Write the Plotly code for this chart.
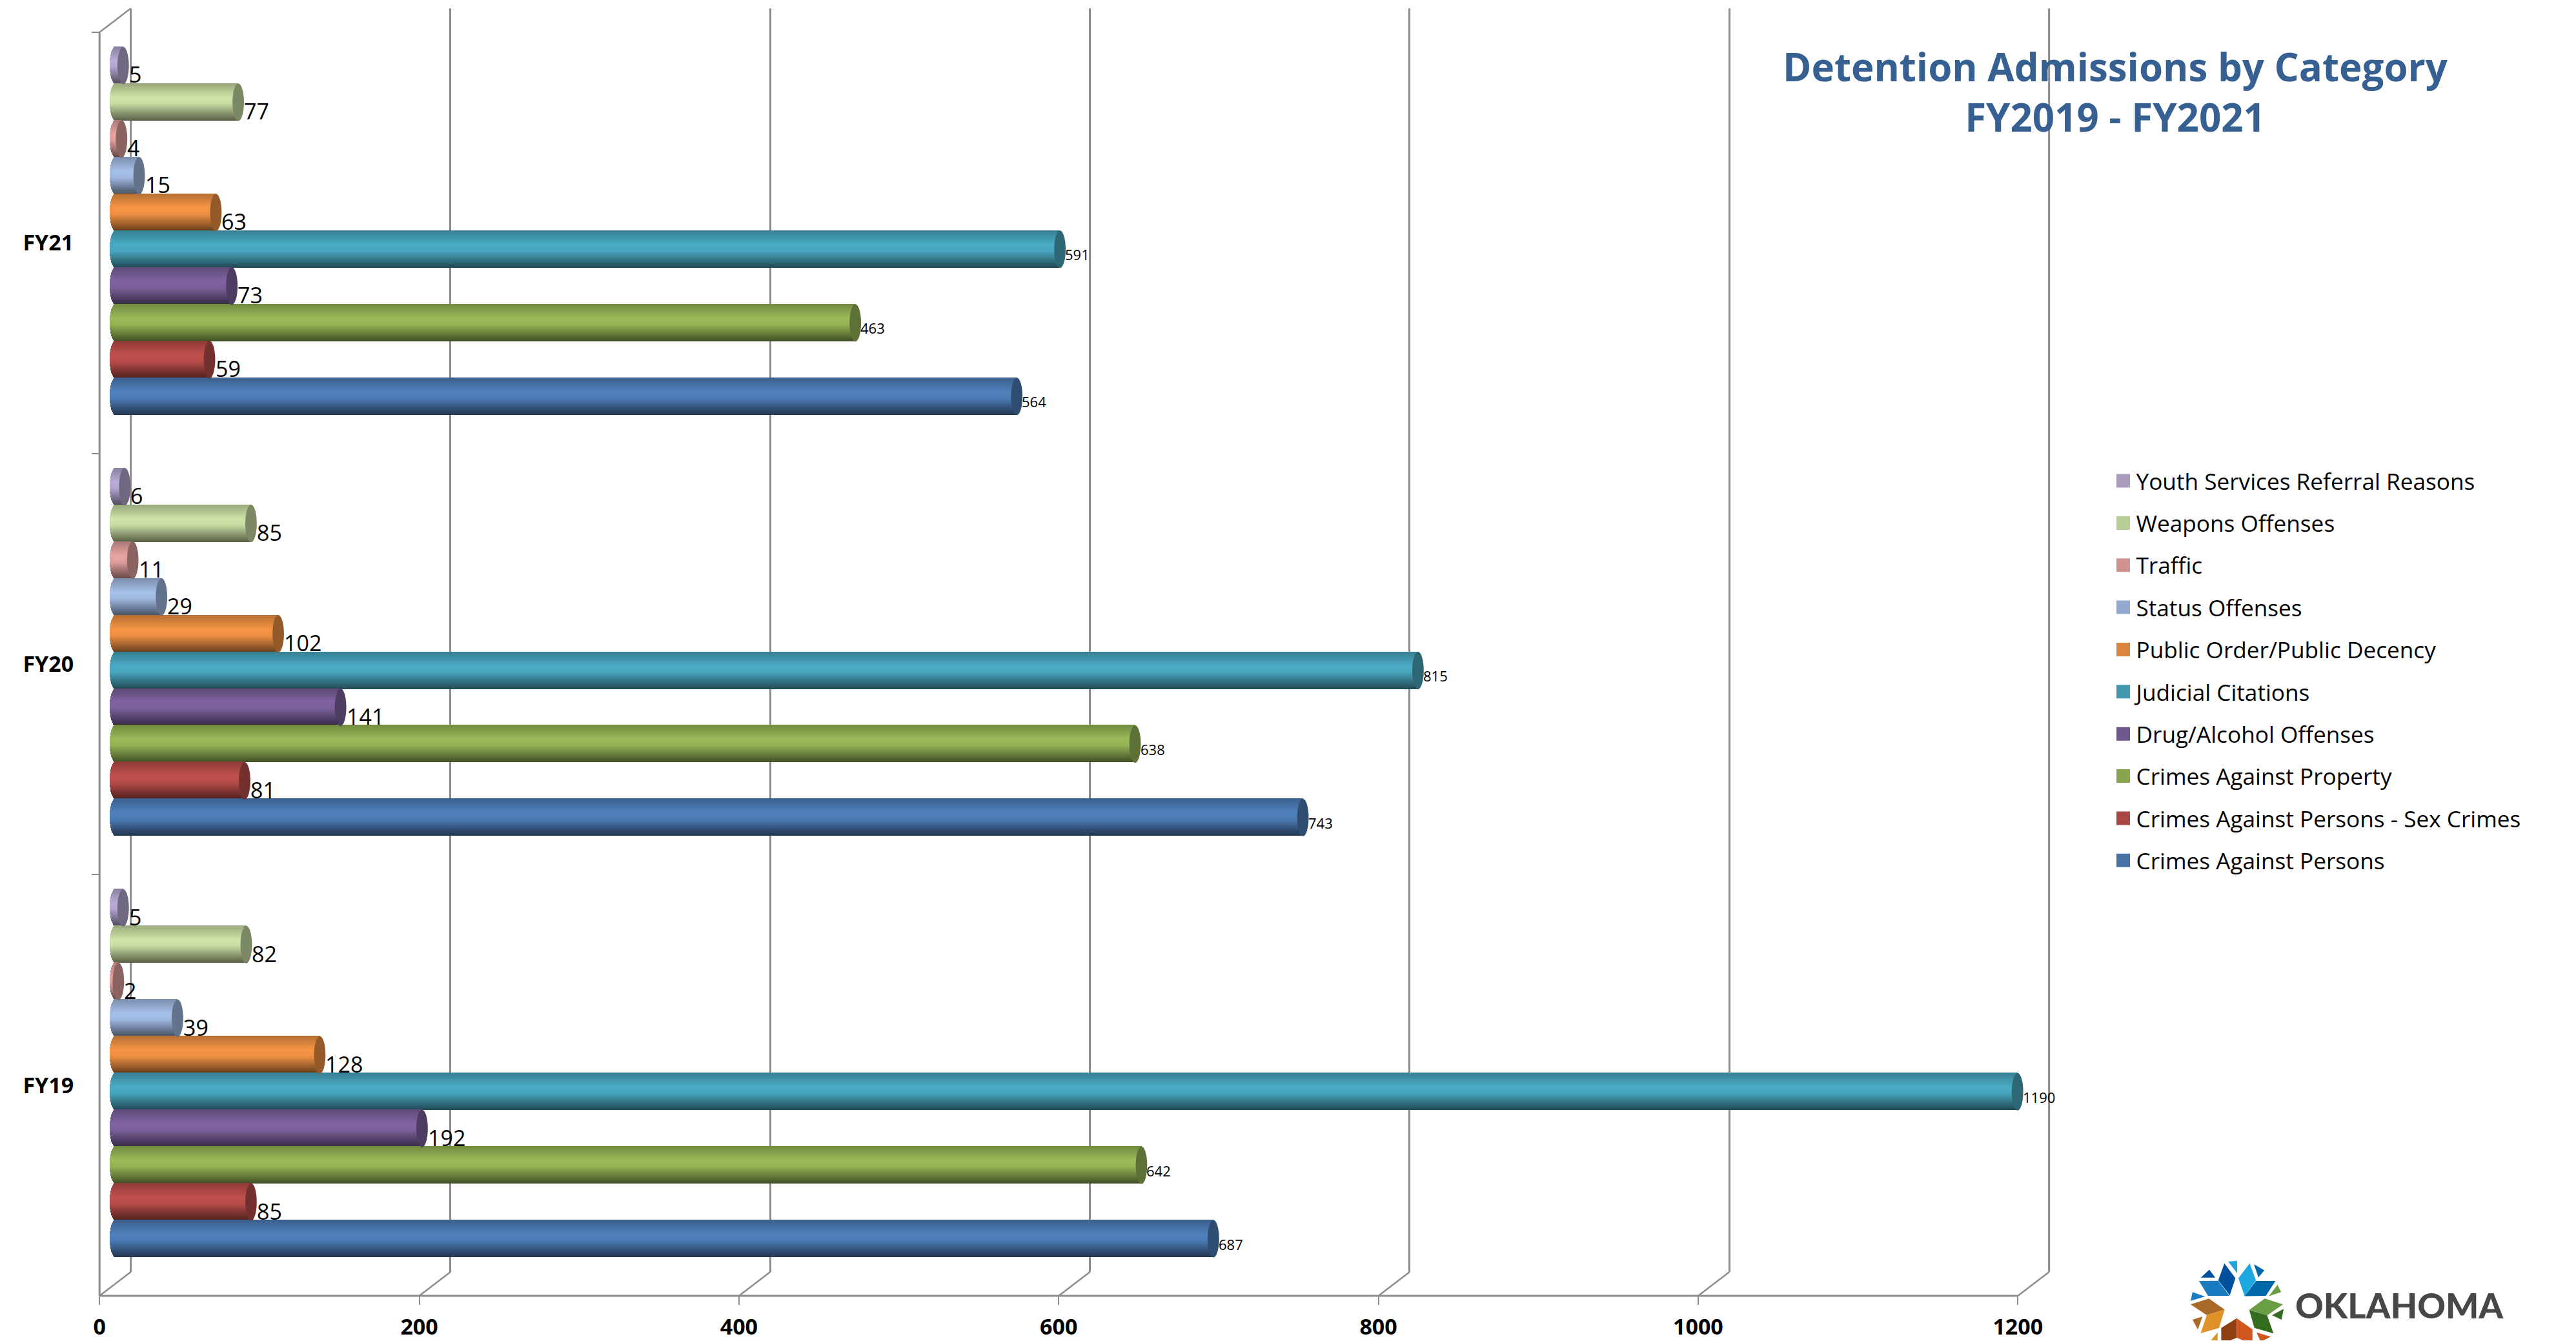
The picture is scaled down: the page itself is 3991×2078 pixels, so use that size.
import math
import plotly.graph_objects as go

W, H = 3991, 2078

# ---- data ----
fiscal_years = ["FY19", "FY20", "FY21"]
series_names = ["Crimes Against Persons", "Crimes Against Persons - Sex Crimes", "Crimes Against Property",
                "Drug/Alcohol Offenses", "Judicial Citations", "Public Order/Public Decency",
                "Status Offenses", "Traffic", "Weapons Offenses", "Youth Services Referral Reasons"]
crimes_persons = [687, 743, 564]
crimes_sex = [85, 81, 59]
crimes_property = [642, 638, 463]
drug_alcohol = [192, 141, 73]
judicial = [1190, 815, 591]
public_order = [128, 102, 63]
status_off = [39, 29, 15]
traffic = [2, 11, 4]
weapons = [82, 85, 77]
youth = [5, 6, 5]
series_values = [crimes_persons, crimes_sex, crimes_property, drug_alcohol, judicial,
                 public_order, status_off, traffic, weapons, youth]
x_ticks = [0, 200, 400, 600, 800, 1000, 1200]
title_lines = ["Detention Admissions by Category", "FY2019 - FY2021"]

# ---- styles ----
bar_colors = ["#4F81BD", "#C0504D", "#9BBB59", "#8064A2", "#4BACC6", "#F79646",
              "#A6C0EA", "#E8A5A3", "#D0E4A8", "#BCACD8"]
legend_colors = ["#4572A7", "#AA4643", "#89A54E", "#71588F", "#4198AF", "#DB843D",
                 "#93A9CF", "#D19392", "#B9CD96", "#A99BBD"]
GREY = "#8C8C8C"
FONT = "Open Sans"


def px_x(p):
    return p / W


def px_y(p):
    return 1 - p / H


def shade(hex_color, f):
    r, g, b = (int(hex_color[i:i + 2], 16) for i in (1, 3, 5))
    return "rgb(%d,%d,%d)" % (r * f, g * f, b * f)


def ramp(t):
    stops = [(0, .74), (.12, .82), (.38, 1.0), (.55, .96), (.78, .68), (1, .42)]
    for (a, fa), (b, fb) in zip(stops, stops[1:]):
        if t <= b:
            return fa + (fb - fa) * (t - a) / (b - a)
    return stops[-1][1]


# geometry (in reference pixels)
PX_PER_UNIT = 3009 / 1200
CAT_PX = 653
PITCH = 57 / CAT_PX
BAR_PX = 58
N_STRIPS = 29
STRIP = (BAR_PX / N_STRIPS) / CAT_PX
CAP_A = 9 / PX_PER_UNIT
CAP_B = (BAR_PX / 2) / CAT_PX
LEFT_ROOM = 12  # axis units kept free left of zero for the rounded bar ends

fig = go.Figure()

# back wall carrier (gridlines)
fig.add_trace(go.Scatter(x=x_ticks, y=[None] * len(x_ticks), mode="markers", xaxis="x", yaxis="y",
                         showlegend=False, hoverinfo="skip"))

shapes = []
annotations = []

# bars, top series first so lower ones lie over them
for i in reversed(range(len(series_names))):
    vals = series_values[i]
    centre_off = (i - 4.5) * PITCH
    ys, xs, offs, cols = [], [], [], []
    lxs, lbase, lys, loffs, lcols = [], [], [], [], []
    for c, cat in enumerate(fiscal_years):
        for k in range(N_STRIPS):
            t = (k + .5) / N_STRIPS
            off = centre_off + CAP_B - (k + 1) * STRIP
            col = shade(bar_colors[i], ramp(t))
            ys.append(cat); xs.append(vals[c]); offs.append(off); cols.append(col)
            a = CAP_A * math.sqrt(max(0, 1 - (2 * t - 1) ** 2))
            lys.append(cat); lxs.append(a); lbase.append(-a); loffs.append(off); lcols.append(col)
        shapes.append(dict(type="circle", xref="x2", yref="y2", layer="above",
                           x0=vals[c] - CAP_A, x1=vals[c] + CAP_A,
                           y0=c + centre_off - CAP_B, y1=c + centre_off + CAP_B,
                           fillcolor=shade(bar_colors[i], .6), line=dict(width=0)))
        small = vals[c] >= 400
        annotations.append(dict(xref="x2", yref="y2", x=vals[c], y=c + centre_off,
                                text=str(vals[c]), showarrow=False, xanchor="left", yanchor="middle",
                                xshift=8 if not small else 7, yshift=-14 if not small else -8,
                                font=dict(family=FONT, size=22 if small else 34, color="#000000"),
                                borderpad=0))
    fig.add_trace(go.Bar(y=ys, x=xs, orientation="h", offset=offs, width=[STRIP] * len(ys),
                         marker=dict(color=cols, line=dict(width=0)), xaxis="x2", yaxis="y2",
                         name=series_names[i], showlegend=False))
    fig.add_trace(go.Bar(y=lys, x=lxs, base=lbase, orientation="h", offset=loffs, width=[STRIP] * len(lys),
                         marker=dict(color=lcols, line=dict(width=0)), xaxis="x2", yaxis="y2",
                         showlegend=False, hoverinfo="skip"))

# legend entries (top to bottom), carry the front axes too
for i in reversed(range(len(series_names))):
    fig.add_trace(go.Scatter(x=[None] * 3, y=fiscal_years, mode="markers", name=series_names[i],
                             legendgroup=series_names[i], xaxis="x3", yaxis="y3",
                             marker=dict(symbol="square", size=16, color=legend_colors[i],
                                         line=dict(width=5, color=legend_colors[i]))))


def frame_line(x0, y0, x1, y1, width=3):
    return dict(type="line", xref="paper", yref="paper", layer="below",
                x0=px_x(x0), y0=px_y(y0), x1=px_x(x1), y1=px_y(y1),
                line=dict(color=GREY, width=width))


# floor diagonals, top-left edge, wall and axis lines
for t in x_ticks:
    x_front = 146 + t * PX_PER_UNIT
    shapes.append(frame_line(x_front, 2009, x_front + 49, 1972, 2.5))
shapes.append(frame_line(146, 50, 195, 13, 2.5))
shapes.append(frame_line(146, 50, 146, 2009))
shapes.append(frame_line(146, 2009, 3155, 2009))
shapes.append(frame_line(195, 13, 195, 1972))
shapes.append(frame_line(3204, 13, 3204, 1972))

# logo: coloured facets
logo_polys = [
    ("#1DA6E0", [(195, 18), (237, 14), (237, 72)]),
    ("#00509E", [(177, 26), (229, 95), (202, 175), (148, 105)]),
    ("#1A7BC1", [(57, 108), (148, 107), (201, 177), (100, 177)]),
    ("#00509E", [(66, 92), (106, 55), (134, 92)]),
    ("#1A7BC1", [(27, 160), (86, 180), (18, 200)]),
    ("#1DA6E0", [(296, 26), (325, 105), (272, 178), (243, 95)]),
    ("#0068A8", [(325, 108), (417, 108), (372, 177), (272, 178)]),
    ("#0068A8", [(316, 30), (365, 58), (337, 91)]),
    ("#6B9E44", [(427, 125), (444, 160), (386, 178)]),
    ("#6B9E44", [(367, 190), (453, 217), (378, 268), (294, 242)]),
    ("#336B1F", [(294, 243), (378, 268), (408, 352), (318, 326)]),
    ("#336B1F", [(456, 238), (446, 288), (401, 267)]),
    ("#A96A28", [(104, 190), (178, 241), (94, 267), (18, 217)]),
    ("#E09228", [(178, 241), (152, 326), (65, 351), (94, 267)]),
    ("#A96A28", [(27, 288), (74, 273), (52, 334)]),
    ("#8F3F14", [(235, 281), (235, 372), (205, 384), (162, 384), (162, 326)]),
    ("#D15720", [(235, 281), (309, 333), (309, 384), (265, 384), (235, 372)]),
    ("#D15720", [(328, 347), (395, 367), (362, 384), (345, 384)]),
    ("#E09228", [(145, 347), (145, 384), (113, 384)]),
]
for color, pts in logo_polys:
    d = "M" + " L".join("%.5f,%.5f" % (px_x(3420 + px / 3), px_y(1950 + py / 3)) for px, py in pts) + " Z"
    shapes.append(dict(type="path", xref="paper", yref="paper", path=d, fillcolor=color, line=dict(width=0)))
annotations.append(dict(xref="paper", yref="paper", x=px_x(3754), y=px_y(2023), text="OKLAHOMA",
                        showarrow=False, xanchor="center", yanchor="middle",
                        font=dict(family="Lato", size=54, weight=900, color="#474747")))

tick_font = dict(family=FONT, size=34, weight=700, color="#000000")
fig.update_layout(
    width=W, height=H, margin=dict(l=0, r=0, t=0, b=0), autosize=False,
    paper_bgcolor="#FFFFFF", plot_bgcolor="rgba(0,0,0,0)", barmode="overlay", bargap=0,
    title=dict(text="<br>".join(title_lines), x=px_x(3277), xanchor="center", xref="container",
               y=px_y(126), yanchor="top", yref="container",
               font=dict(family=FONT, size=60, weight=700, color="#366092")),
    # back wall
    xaxis=dict(domain=[px_x(195), px_x(3204)], range=[0, 1200], tickvals=x_ticks, showticklabels=False,
               showgrid=True, gridcolor=GREY, gridwidth=3, zeroline=False, ticks="", anchor="y"),
    yaxis=dict(domain=[px_y(1972), px_y(13)], range=[0, 1], showgrid=False, showticklabels=False,
               zeroline=False, anchor="x"),
    # bar plane (zero at pixel 170.5)
    xaxis2=dict(domain=[px_x(170.5 - LEFT_ROOM * PX_PER_UNIT), px_x(3179.5)], range=[-LEFT_ROOM, 1200],
                visible=False, anchor="y2"),
    yaxis2=dict(domain=[px_y(1990.5), px_y(31.5)], type="category", categoryorder="array",
                categoryarray=fiscal_years, range=[-.5, 2.5], visible=False, anchor="x2"),
    # front axes
    xaxis3=dict(domain=[px_x(146), px_x(3155)], range=[0, 1200], tickvals=x_ticks, ticks="outside",
                ticklen=13, tickwidth=2, tickcolor=GREY, showline=False,
                showgrid=False, zeroline=False, tickfont=tick_font, anchor="y3", ticklabelstandoff=5),
    yaxis3=dict(domain=[px_y(2009), px_y(50)], type="category", categoryorder="array",
                categoryarray=fiscal_years, range=[-.5, 2.5], tickson="boundaries", ticks="outside",
                ticklen=11, tickwidth=2, tickcolor=GREY, showline=False,
                showgrid=False, zeroline=False, tickfont=tick_font, anchor="x3", ticklabelstandoff=39),
    legend=dict(x=px_x(3300), xanchor="left", y=px_y(716), yanchor="top", traceorder="grouped",
                tracegroupgap=16.6, bgcolor="rgba(0,0,0,0)", borderwidth=0,
                font=dict(family=FONT, size=35.2, color="#000000"), itemwidth=30, itemsizing="trace"),
    shapes=shapes, annotations=annotations,
)

fig.write_html("out.html", config=dict(displayModeBar=False), post_script="document.body.style.margin='0';")
